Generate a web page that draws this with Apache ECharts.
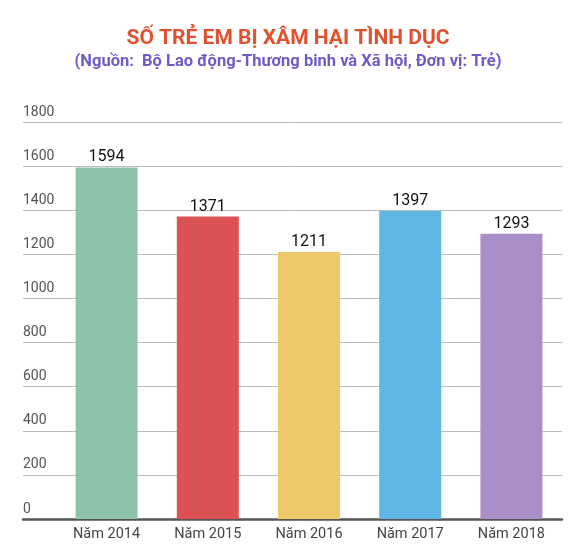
<!DOCTYPE html>
<html>
<head>
<meta charset="utf-8">
<script src="https://cdn.jsdelivr.net/npm/echarts@6/dist/echarts.min.js"></script>
<style>
	html, body { margin: 0; padding: 0; background: #fff; }
	#chart { width: 576px; height: 560px; }
</style>
</head>
<body>
<div id="chart"></div>
<script>
var categories = ['Năm 2014', 'Năm 2015', 'Năm 2016', 'Năm 2017', 'Năm 2018'];
var values = [1594, 1371, 1211, 1397, 1293];
var barColors = ['#8dc4a8', '#db5154', '#eec96b', '#5fb5e3', '#a98ec7'];

var chart = echarts.init(document.getElementById('chart'));

var barData = values.map(function(v, i) {
	return { value: v, itemStyle: { color: barColors[i] } };
});

var option = {
	backgroundColor: '#fff',
	animation: false,
	title: [{
		text: 'SỐ TRẺ EM BỊ XÂM HẠI TÌNH DỤC',
		left: 'center',
		top: 23,
		textStyle: { color: '#e0522f', fontSize: 21, fontWeight: 'bold', fontFamily: 'Roboto' }
	}, {
		text: '(Nguồn:  Bộ Lao động-Thương binh và Xã hội, Đơn vị: Trẻ)',
		left: 'center',
		top: 48,
		textStyle: { color: '#6b5cc6', fontSize: 16.5, fontWeight: 'bold', fontFamily: 'Roboto' }
	}],
	grid: [
		{ left: 23, right: 14, top: 122, bottom: 41 },
		{ left: 56, right: 14, top: 122, bottom: 41 }
	],
	xAxis: [{
		type: 'category',
		gridIndex: 0,
		data: [''],
		axisLine: { show: true, lineStyle: { color: '#555', width: 2.5 } },
		axisTick: { show: false },
		axisLabel: { show: false }
	}, {
		type: 'category',
		gridIndex: 1,
		data: categories,
		axisLine: { show: false },
		axisTick: { show: false },
		axisLabel: { color: '#444', fontSize: 14.5, fontFamily: 'Roboto', margin: 8 }
	}],
	yAxis: [{
		type: 'value',
		gridIndex: 0,
		min: 0,
		max: 1800,
		interval: 200,
		axisLine: { show: false },
		axisTick: { show: false },
		splitLine: { lineStyle: { color: '#bdbdbd', width: 1 } },
		axisLabel: {
			inside: true,
			margin: 0,
			align: 'left',
			verticalAlign: 'bottom',
			padding: [0, 0, 3, 0],
			color: '#555',
			fontSize: 14,
			fontFamily: 'Roboto',
			formatter: function(v) { return String(v); }
		}
	}, {
		type: 'value',
		gridIndex: 1,
		min: 0,
		max: 1800,
		interval: 200,
		show: false,
		splitLine: { show: false }
	}],
	series: [{
		type: 'bar',
		xAxisIndex: 1,
		yAxisIndex: 1,
		barWidth: 62,
		data: barData,
		label: {
			show: true,
			position: 'top',
			distance: 2,
			color: '#111',
			fontSize: 16,
			fontFamily: 'Roboto'
		}
	}]
};

chart.setOption(option);
</script>
</body>
</html>
